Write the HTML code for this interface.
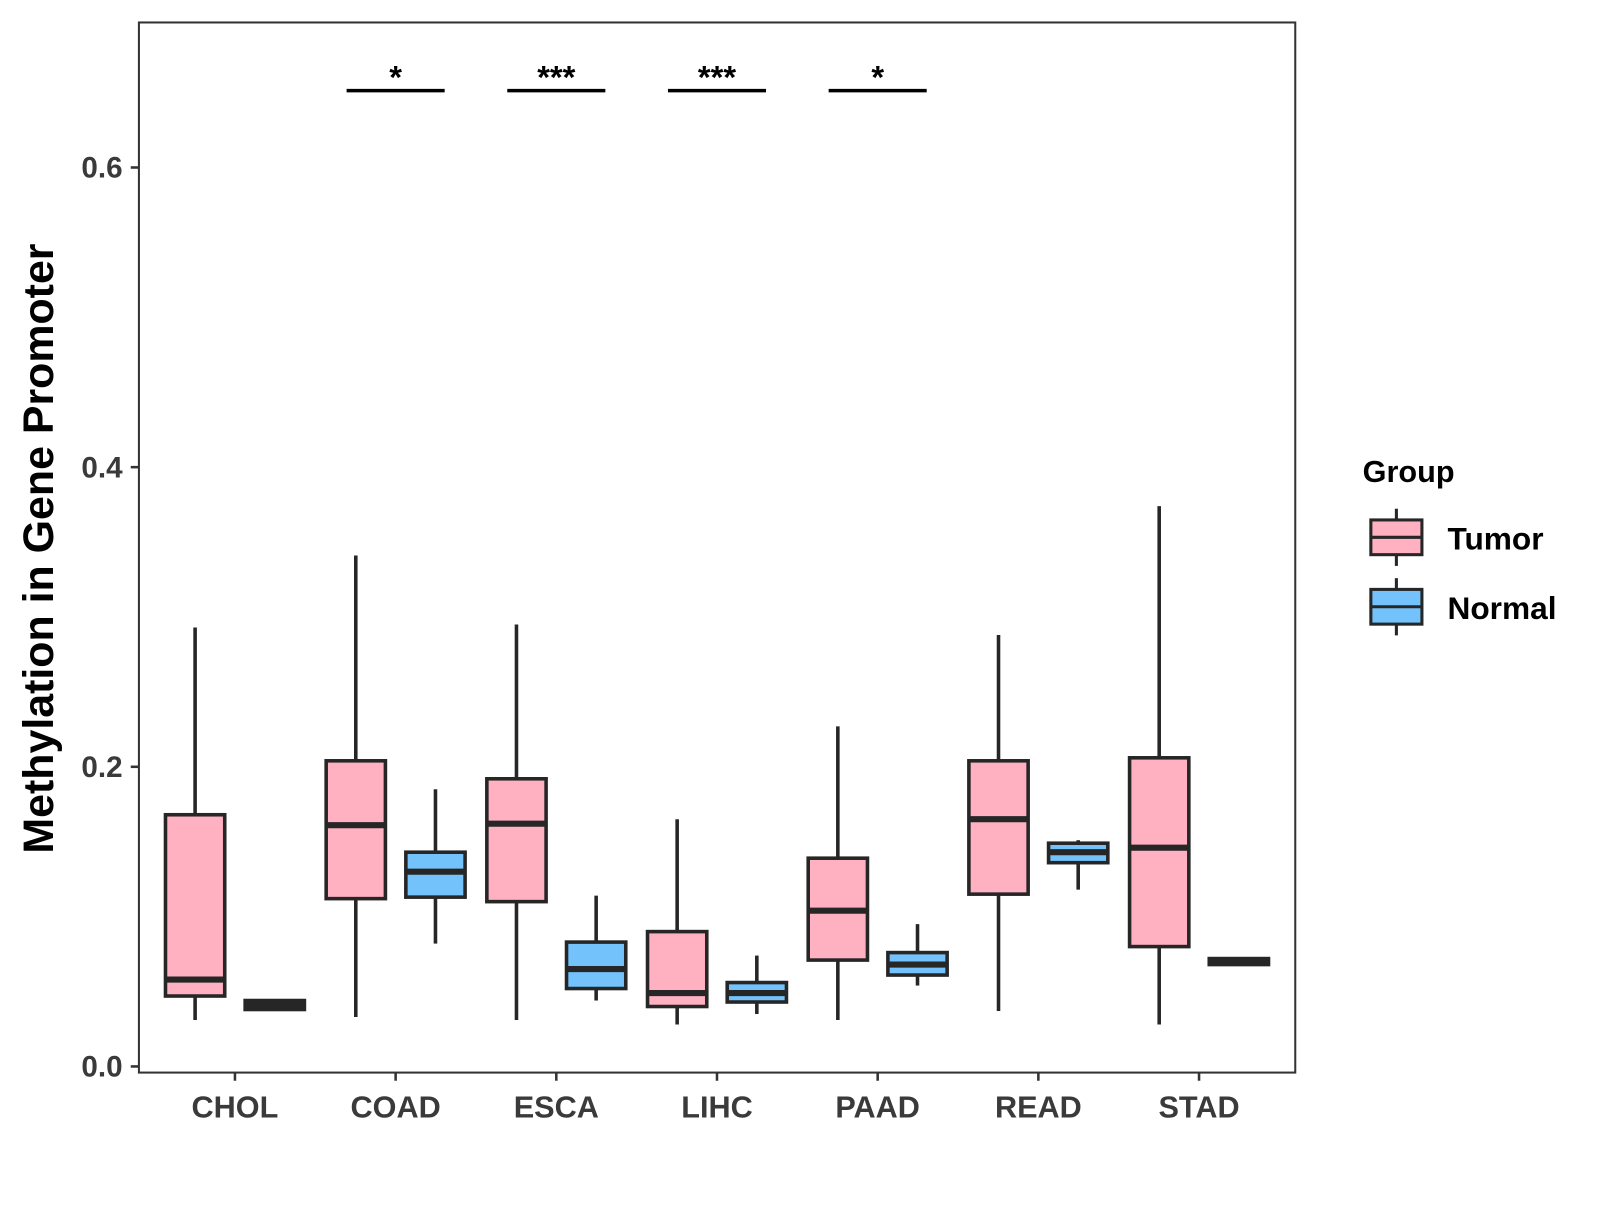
<!DOCTYPE html>
<html><head><meta charset="utf-8"><style>
body{margin:0;background:#fff;width:1600px;height:1200px;overflow:hidden}
svg{font-family:"Liberation Sans",sans-serif}
</style></head><body>
<svg id="chart" width="1600" height="1200">
<g transform="scale(1.0215)">
<rect x="136" y="22" width="1132" height="1028" fill="#fff" stroke="#333" stroke-width="2"/>
<g id="yaxis"></g>
<g id="xaxis"></g>
<g id="boxes"></g>
<g id="sig"></g>
<text x="52" y="537" transform="rotate(-90 52 537)" text-anchor="middle" font-size="42" font-weight="bold" fill="#000">Methylation in Gene Promoter</text>
<g>
<text x="1334" y="472" font-size="30" font-weight="bold">Group</text>
<g>
<line x1="1367" y1="498" x2="1367" y2="554" stroke="#262626" stroke-width="3"/>
<rect x="1342" y="509" width="50" height="34" fill="#FFB0C1" stroke="#262626" stroke-width="3"/>
<line x1="1342" y1="526" x2="1392" y2="526" stroke="#262626" stroke-width="3"/>
<text x="1417" y="538" font-size="31" font-weight="bold">Tumor</text></g>
<g>
<line x1="1367" y1="566" x2="1367" y2="622" stroke="#262626" stroke-width="3"/>
<rect x="1342" y="577" width="50" height="34" fill="#73C2FB" stroke="#262626" stroke-width="3"/>
<line x1="1342" y1="594" x2="1392" y2="594" stroke="#262626" stroke-width="3"/>
<text x="1417" y="606" font-size="31" font-weight="bold">Normal</text></g>
</g>
</g>
</svg>
<script>
const categories=["CHOL","COAD","ESCA","LIHC","PAAD","READ","STAD"];
// [low, q1, median, q3, high]
const tumorStats=[[0.031,0.047,0.058,0.168,0.293],[0.033,0.112,0.161,0.204,0.341],[0.031,0.110,0.162,0.192,0.295],[0.028,0.040,0.049,0.090,0.165],[0.031,0.071,0.104,0.139,0.227],[0.037,0.115,0.165,0.204,0.288],[0.028,0.080,0.146,0.206,0.374]];
const normalStats=[[0.037,0.038,0.041,0.044,0.044],[0.082,0.113,0.130,0.143,0.185],[0.044,0.052,0.065,0.083,0.114],[0.035,0.043,0.049,0.056,0.074],[0.054,0.061,0.068,0.076,0.095],[0.118,0.136,0.143,0.149,0.151],[0.068,0.068,0.070,0.072,0.072]];
const yTicks=[0,0.2,0.4,0.6];
const yTickLabels=["0.0","0.2","0.4","0.6"];
const sigCategories=["COAD","ESCA","LIHC","PAAD"];
const sigLabels=["*","***","***","*"];
const sigValue=0.652;
const NS="http://www.w3.org/2000/svg";
const y=v=>1044-v*1466.7;
const x=i=>230+i*157.3;
function mk(tag,attrs,parent){const e=document.createElementNS(NS,tag);for(const k in attrs)e.setAttribute(k,attrs[k]);parent.appendChild(e);return e;}
const ya=document.getElementById('yaxis');
yTicks.forEach((t,i)=>{
 const l=mk('line',{x1:128,x2:136,y1:y(t),y2:y(t),stroke:'#333','stroke-width':2.5},ya);
 
 
 const tx=mk('text',{x:120,y:y(t)+10,'text-anchor':'end','font-size':29,'font-weight':'bold',fill:'#3a3a3a'},ya);
 tx.textContent=yTickLabels[i];
 
 
});
const xa=document.getElementById('xaxis');
categories.forEach((c,i)=>{
 const l=mk('line',{x1:x(i),x2:x(i),y1:1050,y2:1058,stroke:'#333','stroke-width':2.5},xa);
 
 
 const tx=mk('text',{x:x(i),y:1094,'text-anchor':'middle','font-size':30,'font-weight':'bold',fill:'#3a3a3a'},xa);
 tx.textContent=c;
 
 
});
const bg=document.getElementById('boxes');
function box(cx,s,fill,name){
 const g=mk('g',{},bg);
 
 
 const w=58,st='#262626';
 mk('line',{x1:cx,x2:cx,y1:y(s[4]),y2:y(s[3]),stroke:st,'stroke-width':3.5},g);
 mk('line',{x1:cx,x2:cx,y1:y(s[1]),y2:y(s[0]),stroke:st,'stroke-width':3.5},g);
 mk('rect',{x:cx-w/2,y:y(s[3]),width:w,height:Math.max(y(s[1])-y(s[3]),0.5),fill:fill,stroke:st,'stroke-width':3.5},g);
 mk('line',{x1:cx-w/2,x2:cx+w/2,y1:y(s[2]),y2:y(s[2]),stroke:st,'stroke-width':6},g);
}
categories.forEach((c,i)=>{
 box(x(i)-39,tumorStats[i],'#FFB0C1','box-tumor-'+c.toLowerCase());
 box(x(i)+39,normalStats[i],'#73C2FB','box-normal-'+c.toLowerCase());
});
const sg=document.getElementById('sig');
sigCategories.forEach((c,k)=>{
 const i=categories.indexOf(c);
 const l=mk('line',{x1:x(i)-48,x2:x(i)+48,y1:y(sigValue)+1,y2:y(sigValue)+1,stroke:'#000','stroke-width':3.5},sg);
 
 
 const t=mk('text',{x:x(i),y:y(sigValue)-1,'text-anchor':'middle','font-size':32,'font-weight':'bold'},sg);
 t.textContent=sigLabels[k];
 
 
});
</script>
</body></html>
